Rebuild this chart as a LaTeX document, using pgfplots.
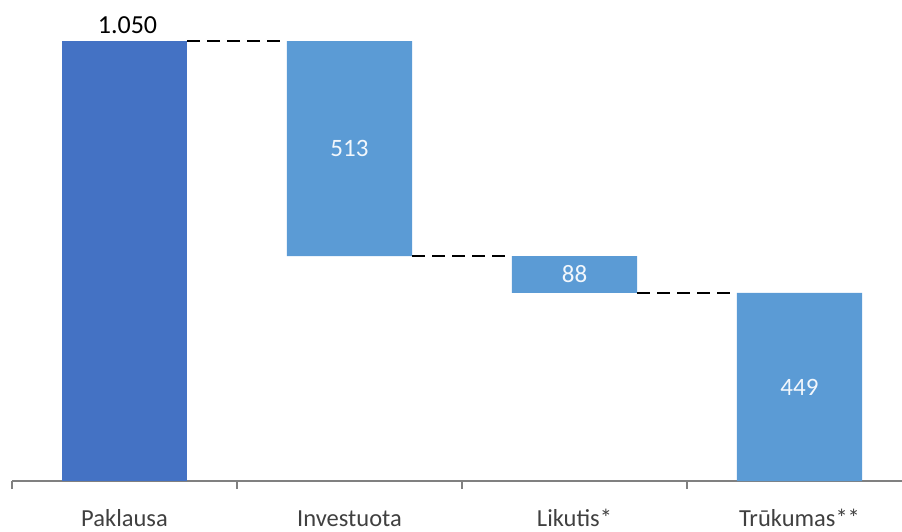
\documentclass[border=0pt]{standalone}
\usepackage{fontspec}
\setmainfont{Carlito}
\usepackage{pgfplots}
\pgfplotsset{compat=1.18}
\usepackage{pgfplotstable}

\definecolor{barDark}{HTML}{4472C4}
\definecolor{barLight}{HTML}{5B9BD5}
\definecolor{axisGray}{HTML}{808080}
\definecolor{catText}{HTML}{404040}

% waterfall: invisible base, then the visible step of each bar
\pgfplotstableread{
x base total step
0 0    1050 0
1 537  0    513
2 449  0    88
3 0    0    449
}\waterfall

% dashed connectors between neighbouring bars
\pgfplotstableread{
x y
0.2778 1050
0.7222 1050
}\connA
\pgfplotstableread{
x y
1.2778 537
1.7222 537
}\connB
\pgfplotstableread{
x y
2.2778 449
2.7222 449
}\connC

\pgfplotsset{
  wf/.style={
    scale only axis,
    width=890pt, height=481pt,
    xmin=-0.5, xmax=3.4556,
    ymin=0, ymax=1148,
    at={(12pt,50pt)}, anchor=south west,
  }
}

\begin{document}
\begin{tikzpicture}
\useasboundingbox (0,0) rectangle (902pt,531pt);
\begin{axis}[
  wf,
  ybar stacked,
  bar width=125pt,
  axis x line*=bottom,
  axis y line=none,
  axis line style={axisGray, line width=1.2pt},
  xtick={-0.5,0.5,1.5,2.5},
  xticklabels={},
  tick align=outside,
  xtick pos=bottom,
  major tick length=8pt,
  tick style={axisGray, line width=1.2pt},
  extra x ticks={0,1,2,3},
  extra x tick labels={Paklausa,Investuota,Likutis*,Trūkumas**},
  extra x tick style={major tick length=0pt,
    xticklabel style={font=\fontsize{24.5}{28}\selectfont, text=catText,
      anchor=base, yshift=-45pt}},
]
\addplot[fill=none, draw=none] table[x=x, y=base] {\waterfall};
\addplot[fill=barDark, draw=none] table[x=x, y=total] {\waterfall};
\addplot[fill=barLight, draw=none] table[x=x, y=step] {\waterfall};
\end{axis}

\begin{axis}[
  wf,
  hide axis,
]
\addplot[black, line width=2.2pt, dash pattern=on 13pt off 7pt] table {\connA};
\addplot[black, line width=2.2pt, dash pattern=on 13pt off 7pt] table {\connB};
\addplot[black, line width=2.2pt, dash pattern=on 13pt off 7pt] table {\connC};

% value labels, centred on each step
\addplot[draw=none, mark=none, nodes near coords, point meta=explicit symbolic,
  every node near coord/.style={anchor=center, text=white!92!barLight,
    font=\fontsize{25}{28}\selectfont}]
  coordinates {(1,793.5)[513] (2,493)[88] (3,224.5)[449]};
\addplot[draw=none, mark=none, nodes near coords, point meta=explicit symbolic,
  every node near coord/.style={anchor=base, text=black, yshift=8pt, xshift=3pt,
    inner sep=0pt, font=\fontsize{26}{30}\selectfont}]
  coordinates {(0,1050)[1.050]};
\end{axis}
\end{tikzpicture}
\end{document}
